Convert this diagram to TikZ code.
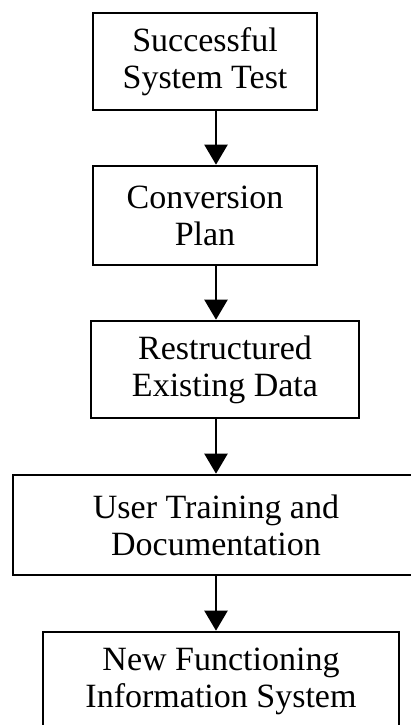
\documentclass[tikz,border=0pt]{standalone}
\usepackage{fontspec}
\setmainfont{Liberation Serif}
\usetikzlibrary{arrows.meta}

\begin{document}
\begin{tikzpicture}[x=1pt,y=-1pt,
  stage/.style={draw=black, line width=2.6pt, fill=white, inner sep=0pt,
    align=center, font=\fontsize{34}{37}\selectfont},
  flow/.style={line width=2.2pt, -{Triangle[length=20pt,width=23pt]}}]
  % page frame
  \fill[white] (0,0) rectangle (411,725);
  \useasboundingbox (0,0) rectangle (411,725);
  \clip (0,0) rectangle (411,725);

  % column that carries the arrows
  \coordinate (col) at (216,0);

  % process stages
  \node[stage, minimum width=224pt, minimum height=97pt] (test) at (205,61.5)
    {Successful\\System Test};
  \node[stage, minimum width=224pt, minimum height=99pt] (plan) at (205,215.5)
    {Conversion\\Plan};
  \node[stage, minimum width=268pt, minimum height=97pt] (data) at (225,369.5)
    {Restructured\\Existing Data};
  \node[stage, minimum width=406pt, minimum height=100pt] (train) at (216,525)
    {User Training and\\Documentation};
  \node[stage, minimum width=356pt, minimum height=98pt] (sys) at (221,681)
    {New Functioning\\Information System};

  % flow arrows
  \draw[flow] (test.south -| col) -- (plan.north -| col);
  \draw[flow] (plan.south -| col) -- (data.north -| col);
  \draw[flow] (data.south -| col) -- (train.north -| col);
  \draw[flow] (train.south -| col) -- (sys.north -| col);
\end{tikzpicture}
\end{document}
